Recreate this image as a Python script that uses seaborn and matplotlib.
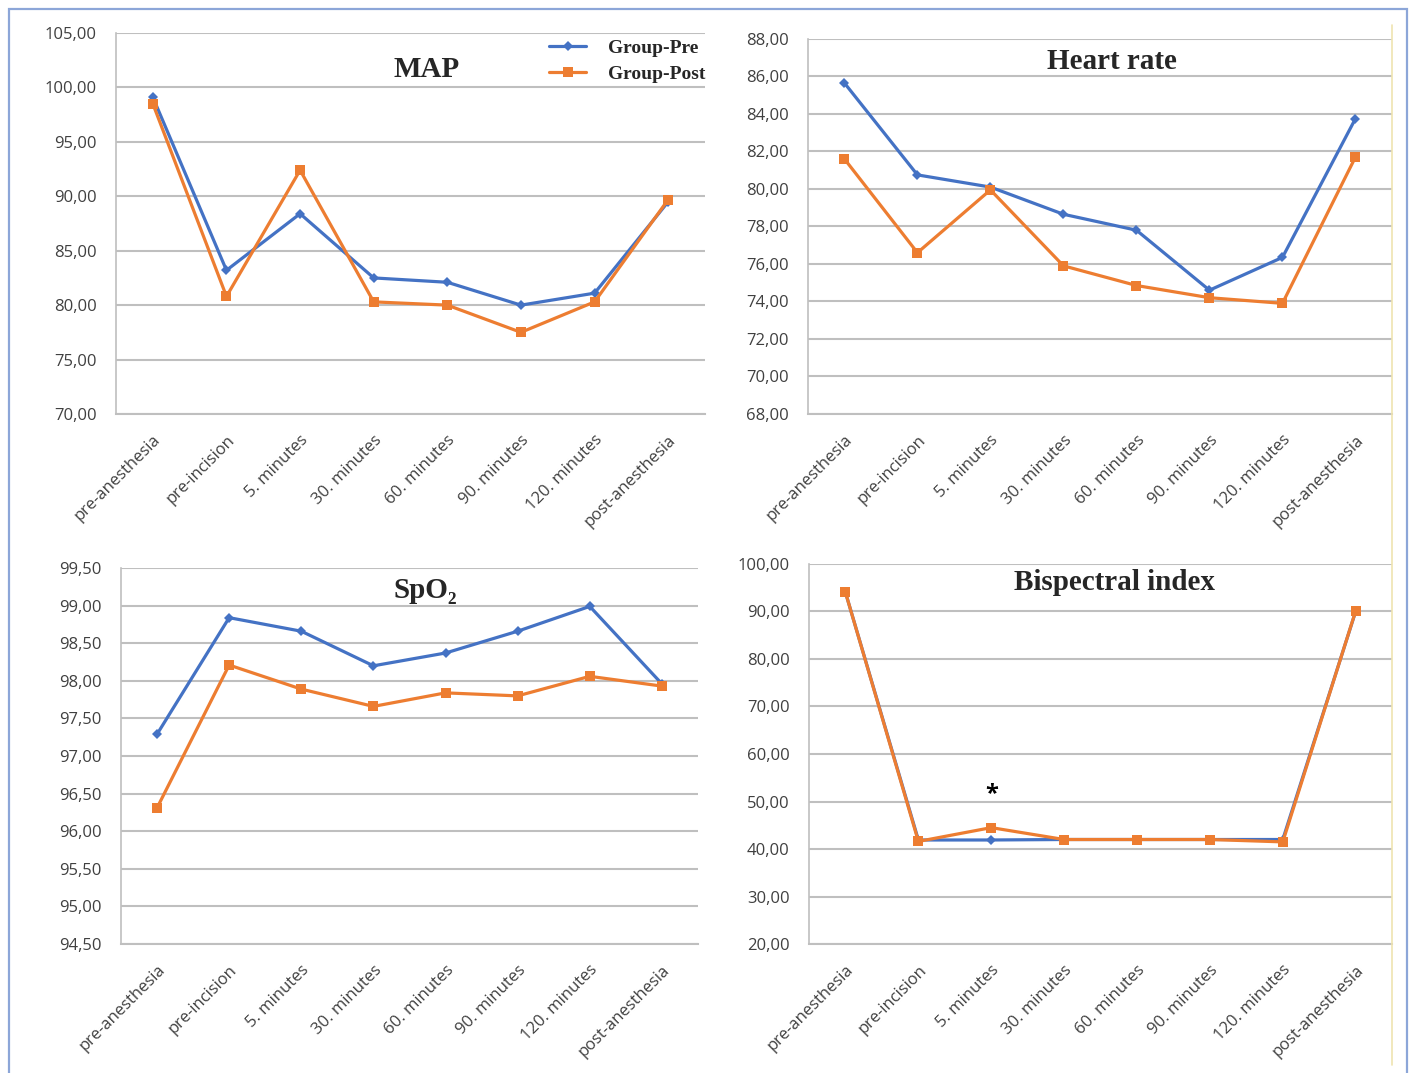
import pandas as pd
import seaborn as sns
import matplotlib.pyplot as plt
from matplotlib.patches import Rectangle
from matplotlib.lines import Line2D

# time points
times = ['pre-anesthesia', 'pre-incision', '5. minutes', '30. minutes',
         '60. minutes', '90. minutes', '120. minutes', 'post-anesthesia']

# values
map_pre = [99.1, 83.2, 88.4, 82.5, 82.1, 80.0, 81.1, 89.5]
map_post = [98.5, 80.8, 92.4, 80.3, 80.0, 77.5, 80.3, 89.7]

hr_pre = [85.65, 80.75, 80.1, 78.65, 77.8, 74.6, 76.35, 83.75]
hr_post = [81.6, 76.6, 79.95, 75.9, 74.85, 74.2, 73.9, 81.7]

spo2_pre = [97.29, 98.84, 98.66, 98.20, 98.37, 98.66, 98.99, 97.96]
spo2_post = [96.31, 98.21, 97.89, 97.66, 97.84, 97.80, 98.06, 97.93]

bis_pre = [94.0, 41.9, 41.9, 42.0, 42.0, 42.0, 42.0, 90.0]
bis_post = [94.0, 41.6, 44.5, 42.0, 42.0, 42.0, 41.5, 90.1]

groups = ['Group-Pre', 'Group-Post']
colors = {'Group-Pre': '#4472C4', 'Group-Post': '#ED7D31'}

sns.set_style('white')
plt.rcParams['font.family'] = ['Open Sans', 'DejaVu Sans']
serif = ['Liberation Serif', 'DejaVu Serif']

fig = plt.figure(figsize=(14.1, 10.73), dpi=100)

# outer frame
fig.patches.append(Rectangle((9 / 1410, -0.01), 1398 / 1410, 1 - 9 / 1073 + 0.01,
                             transform=fig.transFigure, fill=False,
                             edgecolor='#8ca6d8', linewidth=1.6))
fig.lines.append(Line2D([1392 / 1410, 1392 / 1410], [1 - 25 / 1073, 1 - 1065 / 1073],
                        transform=fig.transFigure, color='#efe4b0', linewidth=1.2))

panels = [
    ('MAP', map_pre, map_post, [0.0823, 0.6142, 0.4177, 0.3550], 70, 105, 5, (0.528, 0.905)),
    ('Heart rate', hr_pre, hr_post, [0.5730, 0.6142, 0.4142, 0.3495], 68, 88, 2, (0.52, 0.94)),
    ('SpO₂', spo2_pre, spo2_post, [0.0858, 0.1202, 0.4092, 0.3504], 94.5, 99.5, 0.5, (0.528, 0.94)),
    ('Bispectral index', bis_pre, bis_post, [0.5738, 0.1202, 0.4135, 0.3542], 20, 100, 10, (0.523, 0.95)),
]

for title, pre, post, pos, lo, hi, step, tpos in panels:
    ax = fig.add_axes(pos)
    df = pd.DataFrame({
        'x': list(range(len(times))) * 2,
        'value': pre + post,
        'group': ['Group-Pre'] * len(times) + ['Group-Post'] * len(times),
    })
    sns.lineplot(data=df, x='x', y='value', hue='group', style='group',
                 hue_order=groups, style_order=groups, palette=colors,
                 markers={'Group-Pre': 'D', 'Group-Post': 's'},
                 dashes=False, linewidth=2.3, markeredgewidth=0,
                 ax=ax, legend=False)
    for line in ax.lines:
        if line.get_marker() == 'D':
            line.set_markersize(5.5)
        else:
            line.set_markersize(7)

    ax.set_xlim(-0.5, len(times) - 0.5)
    ax.set_ylim(lo, hi)
    ticks = [lo + i * step for i in range(int(round((hi - lo) / step)) + 1)]
    ax.set_yticks(ticks)
    ax.set_yticklabels([f'{t:.2f}'.replace('.', ',') for t in ticks],
                       fontsize=12, color='#404040')
    ax.set_xticks(range(len(times)))
    ax.set_xticklabels(times, rotation=45, ha='right', rotation_mode='anchor',
                       fontsize=12, color='#404040')
    ax.tick_params(axis='y', length=0, pad=14)
    ax.tick_params(axis='x', length=0, pad=13)
    ax.set_xlabel('')
    ax.set_ylabel('')
    ax.grid(axis='y', color='#bfbfbf', linewidth=1.5)
    ax.set_axisbelow(True)
    for side in ['top', 'right']:
        ax.spines[side].set_visible(False)
    ax.spines['left'].set_color('#bfbfbf')
    ax.spines['bottom'].set_color('#bfbfbf')
    ax.spines['left'].set_linewidth(1.2)
    ax.spines['bottom'].set_linewidth(1.5)

    ax.text(tpos[0], tpos[1], title, transform=ax.transAxes, ha='center', va='center',
            fontsize=21, fontweight='bold', family=serif)

    if title == 'MAP':
        handles = [Line2D([], [], color=colors[g], linewidth=2.3,
                          marker='D' if g == 'Group-Pre' else 's',
                          markersize=5.5 if g == 'Group-Pre' else 7,
                          markeredgewidth=0) for g in groups]
        ax.legend(handles, groups, loc='upper right',
                  bbox_to_anchor=(1.03, 1.03), frameon=False,
                  prop={'family': serif, 'weight': 'bold', 'size': 14},
                  handlelength=1.9, labelspacing=0.45, handletextpad=1.1)

    if title == 'Bispectral index':
        ax.text(2, 51.5, '*', ha='center', va='center', fontsize=17,
                fontweight='bold', color='black')

fig.savefig('out.png', dpi=100)
